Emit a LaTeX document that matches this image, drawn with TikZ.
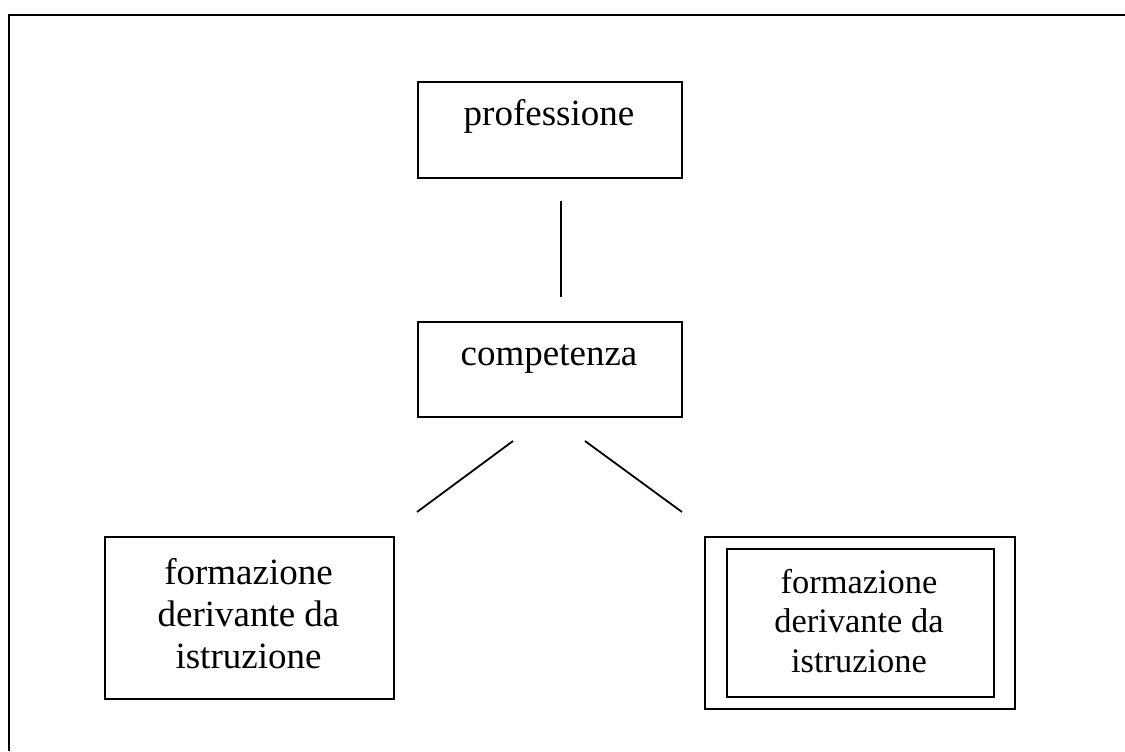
\documentclass[tikz,border=0pt]{standalone}
\usepackage{fontspec}
\setmainfont{Liberation Serif}
\begin{document}
\begin{tikzpicture}[x=0.5pt,y=-0.5pt,line width=0.9pt,
  boxnode/.style={draw,rectangle,inner sep=0pt,anchor=north west},
  bigtext/.style={font=\fontsize{18.5}{21}\selectfont,inner sep=0pt,align=center},
  smalltext/.style={font=\fontsize{17.2}{19.6}\selectfont,inner sep=0pt,align=center},
  link/.style={draw,line width=0.9pt}]
\useasboundingbox (0,0) rectangle (1125,751);
% outer frame (top and left sides only)
\draw[line width=1.1pt] (9,751) -- (9,15) -- (1125,15);
% boxes
\node[boxnode,minimum width=132pt,minimum height=48pt] (prof) at (417,81) {};
\node[bigtext,anchor=base] (proftext) at (549,125) {professione};
\node[boxnode,minimum width=132pt,minimum height=47.5pt] (comp) at (417,321) {};
\node[bigtext,anchor=base] (comptext) at (549,365) {competenza};
\node[boxnode,minimum width=144.5pt,minimum height=81pt] (left) at (104,536) {};
\node[bigtext] (lefttext) at (248.5,614) {formazione\\derivante da\\istruzione};
\node[boxnode,minimum width=155pt,minimum height=86pt] (rightouter) at (704,536) {};
\node[boxnode,minimum width=133.5pt,minimum height=74pt] (rightinner) at (726,548) {};
\node[smalltext] (righttext) at (859,621) {formazione\\derivante da\\istruzione};
% connectors (free-standing, not touching boxes)
\coordinate (v1) at (561,201);
\coordinate (v2) at (561,297);
\coordinate (l1) at (513,441);
\coordinate (l2) at (417,512);
\coordinate (r1) at (585,441);
\coordinate (r2) at (682,512);
\draw[link] (v1) -- (v2);
\draw[link] (l1) -- (l2);
\draw[link] (r1) -- (r2);
\end{tikzpicture}
\end{document}
